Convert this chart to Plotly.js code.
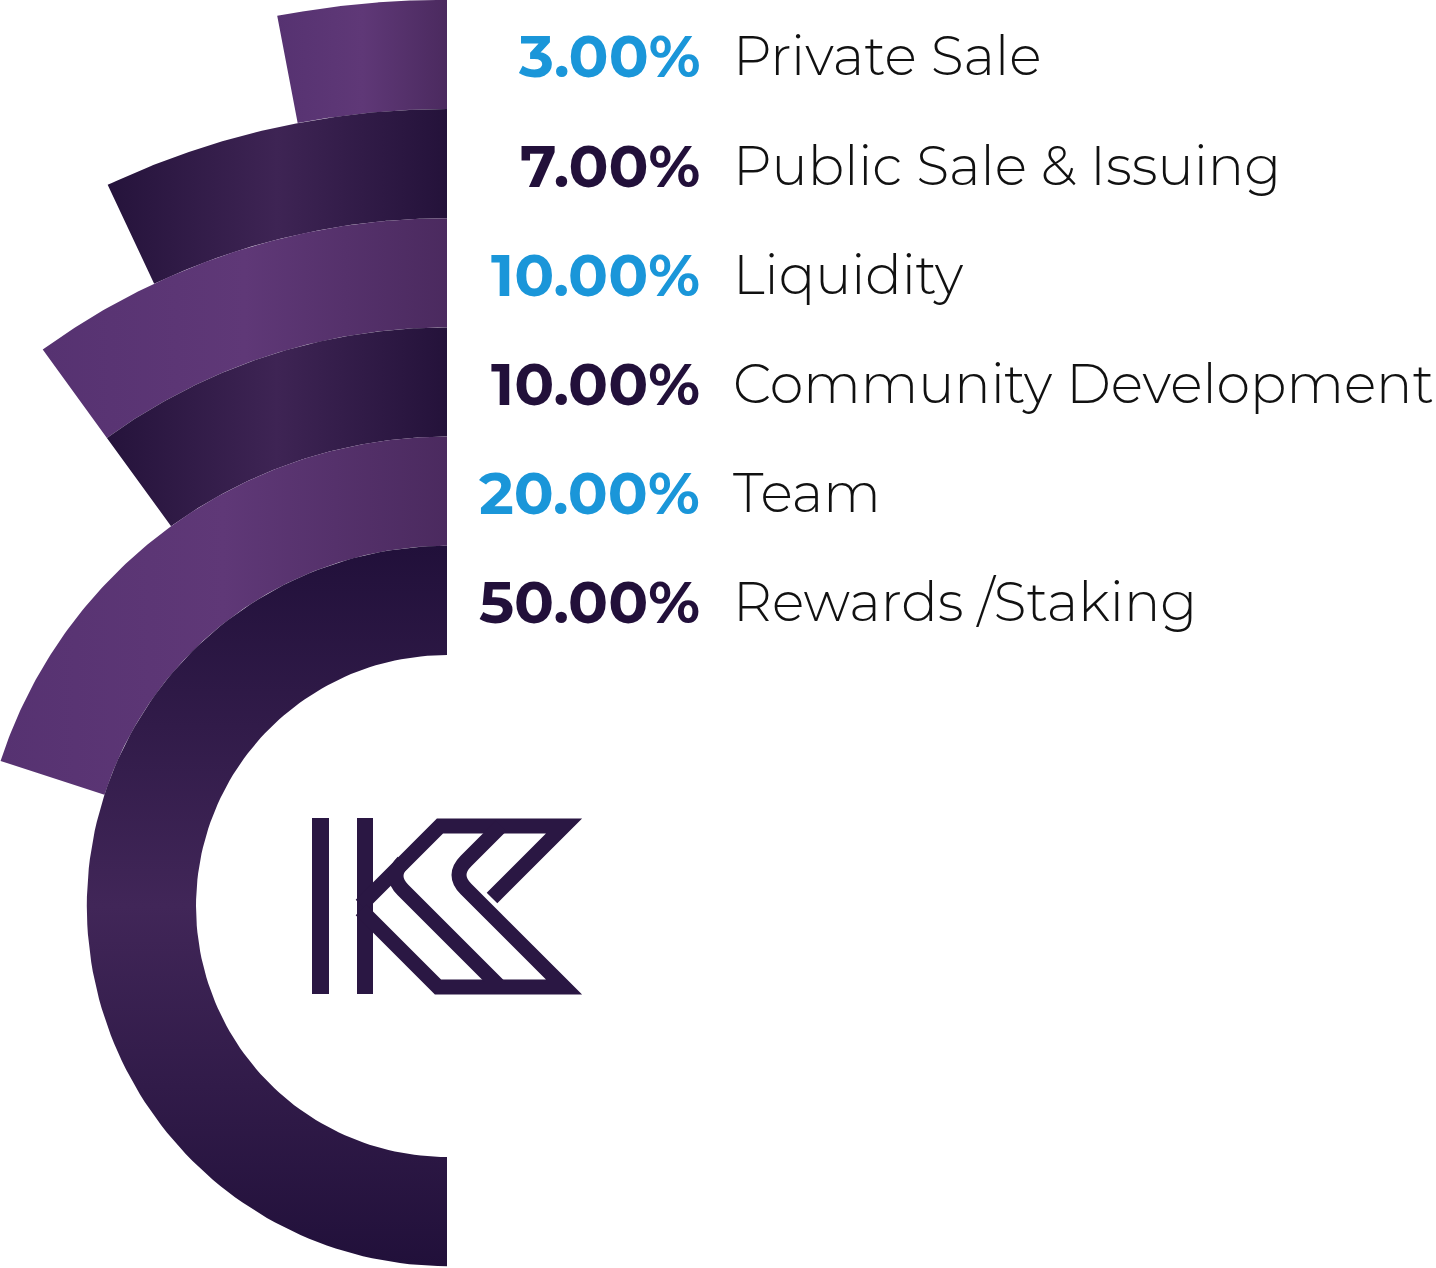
<!DOCTYPE html>
<html>
<head>
<meta charset="utf-8">
<script src="https://cdn.plot.ly/plotly-3.0.1.min.js"></script>
<style>
  html, body { margin: 0; padding: 0; background: #fff; overflow: hidden; }
  #chart { width: 1436px; height: 1268px; }
</style>
</head>
<body>
<div id="chart"></div>
<script>
// token allocation, listed top row first (outermost ring first)
const categories = ['Private Sale', 'Public Sale & Issuing', 'Liquidity', 'Community Development', 'Team', 'Rewards /Staking'];
const shares = [3, 7, 10, 10, 20, 50];
const pctLabels = ['3.00%', '7.00%', '10.00%', '10.00%', '20.00%', '50.00%'];
const pctColors = ['#1a96d9', '#22103a', '#1a96d9', '#22103a', '#1a96d9', '#22103a'];

// ring look: [end, middle, end] colours and gradient direction
const ringShades = [
  ['#563271', '#5f3877', '#4b2a5f'],
  ['#25133b', '#3e2454', '#24123a'],
  ['#563271', '#5f3877', '#4b2a5f'],
  ['#25133b', '#3e2454', '#24123a'],
  ['#563271', '#5f3877', '#4b2a5f'],
  ['#21103a', '#412658', '#21103a'],
];

const HOLE = 251, STEP = 109.2;   // ring geometry in px-units
const n = categories.length;

function arcTrace(i) {
  const k = n - 1 - i;                    // ring index from the centre
  const r0 = HOLE + STEP * k, r1 = r0 + STEP;
  const span = shares[i] / 100 * 2 * Math.PI;
  const steps = 120, xs = [], ys = [];
  for (let s = 0; s <= steps; s++) {
    const a = span * s / steps;
    xs.push(-r1 * Math.sin(a)); ys.push(r1 * Math.cos(a));
  }
  for (let s = steps; s >= 0; s--) {
    const a = span * s / steps;
    xs.push(-r0 * Math.sin(a)); ys.push(r0 * Math.cos(a));
  }
  xs.push(xs[0]); ys.push(ys[0]);
  const sh = ringShades[i];
  return {
    type: 'scatter', mode: 'lines', x: xs, y: ys, fill: 'toself',
    line: {width: 0, color: sh[1]}, hoverinfo: 'text', text: categories[i] + ' ' + pctLabels[i],
    fillgradient: {
      type: i === n - 1 ? 'vertical' : 'horizontal',
      colorscale: [[0, sh[0]], [0.5, sh[1]], [1, sh[2]]]
    },
    showlegend: false
  };
}

const traces = categories.map((c, i) => arcTrace(i));

// annotations: percent + label for each ring, centred on the ring's top
const annotations = [];
categories.forEach((c, i) => {
  const k = n - 1 - i;
  const yc = HOLE + STEP * (k + 0.5) - 2;
  annotations.push({
    x: 255, y: yc, xref: 'x', yref: 'y', text: pctLabels[i], showarrow: false,
    xanchor: 'right', yanchor: 'middle',
    font: {family: 'Montserrat, Inter, Lato, sans-serif', size: 59, weight: 700, color: pctColors[i]}
  });
  annotations.push({
    x: 284, y: yc, xref: 'x', yref: 'y', text: c, showarrow: false,
    xanchor: 'left', yanchor: 'middle',
    font: {family: 'Montserrat, Inter, Lato, sans-serif', size: 54, weight: 300, color: '#111111'}
  });
});

// logo mark (screen px -> axis units)
const P = (x, y) => (x - 447) + ',' + (906 - y);
const logoColor = '#2a1743';
const logo = [
  {w: 17, d: 'M' + P(320.5, 818) + ' L' + P(320.5, 994)},
  {w: 16, d: 'M' + P(365, 818) + ' L' + P(365, 994)},
  {w: 15, d: 'M' + P(361, 905) + ' L' + P(440, 826) + ' L' + P(564, 826) + ' L' + P(492, 898)},
  {w: 15, d: 'M' + P(361, 910) + ' L' + P(438, 987) + ' L' + P(564, 987) + ' L' + P(466, 889) +
            ' Q' + P(452, 875) + ' ' + P(466, 861) + ' L' + P(501, 826)},
  {w: 15, d: 'M' + P(500, 987) + ' L' + P(403, 890) + ' Q' + P(389, 876) + ' ' + P(403, 862)}
];
const shapes = logo.map(s => ({
  type: 'path', xref: 'x', yref: 'y', path: s.d,
  line: {color: logoColor, width: s.w}, fillcolor: 'rgba(0,0,0,0)'
}));

const layout = {
  width: 1436, height: 1268,
  margin: {l: 0, r: 0, t: 0, b: 0},
  paper_bgcolor: '#ffffff', plot_bgcolor: '#ffffff',
  xaxis: {range: [-447, 989], visible: false, fixedrange: true},
  yaxis: {range: [-362, 906], visible: false, fixedrange: true},
  annotations: annotations,
  shapes: shapes,
  showlegend: false
};

Plotly.newPlot('chart', traces, layout, {displayModeBar: false, staticPlot: true});
</script>
</body>
</html>
